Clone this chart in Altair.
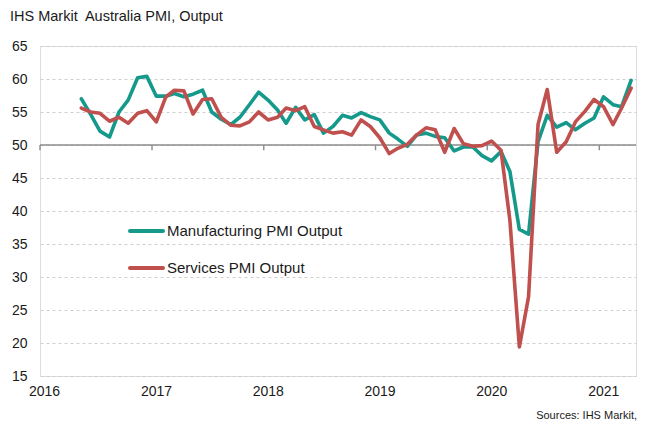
import altair as alt
import pandas as pd

title_text = "IHS Markit\u00a0 Australia PMI, Output"
source_text = "Sources: IHS Markit,"
series_names = ["Manufacturing PMI Output", "Services PMI Output"]
series_colors = ["#15998B", "#C0504D"]
first_month = "2016-05-01"

manufacturing = [
    57.0, 54.6, 52.1, 51.2, 55.0, 56.8, 60.2, 60.4,
    57.4, 57.4, 57.8, 57.3, 57.7, 58.3, 55.0, 53.9, 53.1, 54.2, 56.1, 58.0,
    56.8, 55.3, 53.3, 55.7, 53.8, 54.6, 51.8, 52.8, 54.5, 54.1, 54.9, 54.3,
    53.8, 51.8, 50.9, 49.8, 51.5, 51.8, 51.3, 51.1, 49.1, 49.7, 49.7, 48.4,
    47.6, 49.0, 46.0, 37.2, 36.5, 50.5, 54.5, 52.7, 53.4, 52.3, 53.3, 54.1,
    57.3, 56.1, 55.8, 59.8,
]
services = [
    55.6, 55.0, 54.8, 53.6, 54.2, 53.3, 54.8, 55.2,
    53.5, 57.3, 58.3, 58.2, 54.7, 56.9, 57.0, 54.2, 53.0, 52.9, 53.5, 55.0,
    53.8, 54.2, 55.6, 55.2, 55.8, 52.8, 52.3, 51.8, 52.0, 51.5, 53.8, 52.8,
    51.1, 48.7, 49.5, 50.1, 51.5, 52.6, 52.3, 48.9, 52.5, 50.2, 49.8, 49.9,
    50.6, 49.2, 38.6, 19.4, 27.0, 53.1, 58.4, 48.9, 50.5, 53.5, 55.1, 56.9,
    55.8, 53.1, 55.6, 58.6,
]
year_ticks = [2016, 2017, 2018, 2019, 2020, 2021]
y_ticks = [15, 20, 25, 30, 35, 40, 45, 50, 55, 60, 65]
font = "Liberation Sans"
text_color = "#1a1a1a"

months = pd.date_range(first_month, periods=len(manufacturing), freq="MS") + pd.Timedelta(days=14)
months = [d.strftime("%Y-%m-%dT00:00:00") for d in months]
df = pd.DataFrame({
    "date": months * 2,
    "value": manufacturing + services,
    "series": [series_names[0]] * len(manufacturing) + [series_names[1]] * len(services),
})
years_df = pd.DataFrame({"date": [f"{y}-01-01T00:00:00" for y in year_ticks]})

x_scale = alt.Scale(domain=[alt.DateTime(year=2016, month=1, date=1),
                            alt.DateTime(year=2021, month=5, date=1)])
y_scale = alt.Scale(domain=[15, 65], nice=False, zero=False)

x_axis = alt.Axis(values=[alt.DateTime(year=y, month=1, date=1) for y in year_ticks],
                  format="%Y", title=None, grid=False, domain=False, ticks=False, tickSize=0,
                  labelFont=font, labelFontSize=14, labelColor=text_color, labelPadding=8,
                  labelOffset=4, labelFlush=False, labelOverlap=False)
y_axis = alt.Axis(values=y_ticks, title=None, grid=True, gridDash=[3, 3], gridColor="#CFCFCF",
                  gridWidth=1, domain=False, ticks=False, tickSize=0,
                  labelFont=font, labelFontSize=14, labelColor=text_color, labelPadding=13,
                  labelOverlap=False)

base = alt.Chart(df)

X = lambda: alt.X("date:T", scale=x_scale, axis=x_axis)
Y = lambda f: alt.Y(f, scale=y_scale, axis=y_axis)

rule50 = alt.Chart(pd.DataFrame({"v": [50]})).mark_rule(color="#8C8C8C", strokeWidth=1.6).encode(
    y=Y("v:Q")
)
year_marks = alt.Chart(years_df).mark_rule(color="#8C8C8C", strokeWidth=1.4).encode(
    x=X(),
    y=alt.YDatum(50, scale=y_scale, axis=y_axis),
    y2=alt.Y2Datum(49.2),
)

lines = []
for name, color in zip(series_names, series_colors):
    lines.append(
        base.transform_filter(alt.datum.series == name).mark_line(
            color=color, strokeWidth=3.6, strokeJoin="round", strokeCap="round"
        ).encode(x=X(), y=Y("value:Q"))
    )

legend_layers = []
for i, (name, color) in enumerate(zip(series_names, series_colors)):
    ly = 185 + 37 * i
    ldf = pd.DataFrame({"name": [name]})
    legend_layers.append(
        alt.Chart(ldf).mark_rule(color=color, strokeWidth=4, strokeCap="round").encode(
            x=alt.value(90), x2=alt.value(123), y=alt.value(ly)
        )
    )
    legend_layers.append(
        alt.Chart(ldf).mark_text(align="left", baseline="middle", font=font, fontSize=15,
                                 color=text_color).encode(
            text="name:N", x=alt.value(127), y=alt.value(ly)
        )
    )

title_layer = alt.Chart(pd.DataFrame({"t": [title_text]})).mark_text(
    align="left", baseline="middle", font=font, fontSize=14.5, color=text_color
).encode(text="t:N", x=alt.value(-30), y=alt.value(-29))

source_layer = alt.Chart(pd.DataFrame({"t": [source_text]})).mark_text(
    align="right", baseline="middle", font=font, fontSize=11, color=text_color
).encode(text="t:N", x=alt.value(597), y=alt.value(370))

chart = alt.layer(
    rule50, year_marks, *lines, *legend_layers, title_layer, source_layer
).properties(
    width=596, height=330,
    padding={"left": 32, "top": 38, "right": 2, "bottom": 45},
    autosize="none",
).configure_view(stroke=None).configure(background="white")

chart.save("out.html", embed_options={"renderer": "svg", "actions": False})
